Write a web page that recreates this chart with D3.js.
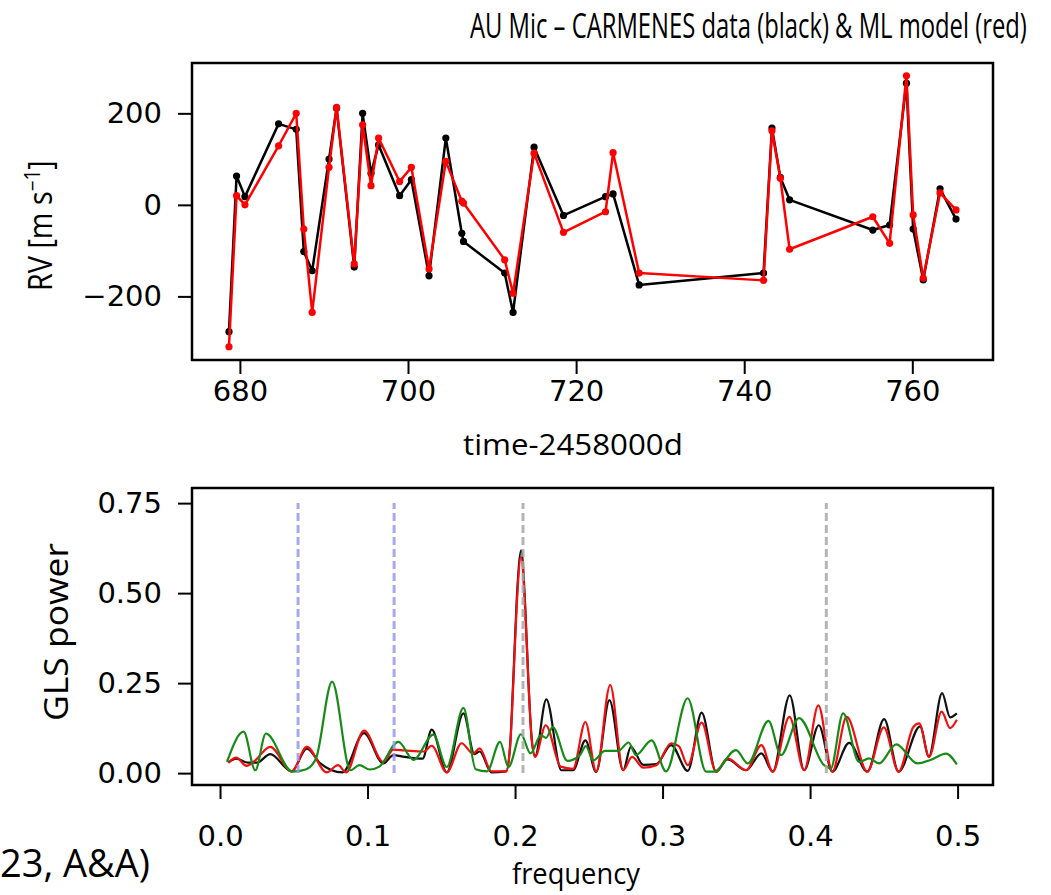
<!DOCTYPE html>
<html>
<head>
<meta charset="utf-8">
<script src="https://cdn.jsdelivr.net/npm/d3@7"></script>
<style>
  html, body { margin: 0; padding: 0; background: #fff; }
  svg { display: block; }
</style>
</head>
<body>
<svg id="chart" width="1051" height="895"></svg>
<script>
// ---------------- DATA ----------------
const titleText = "AU Mic – CARMENES data (black) & ML model (red)";
const sourceText = "23, A&A)";
const xLabelTop = "time-2458000d";
const xLabelBottom = "frequency";
const yLabelBottom = "GLS power";

// top panel: radial velocities
const obsTime = [678.7, 679.6, 680.6, 684.6, 686.7, 687.6, 688.6, 690.6, 691.5, 693.6, 694.6, 695.6, 696.5, 699.0, 700.4, 702.5, 704.5, 706.4, 706.6, 711.5, 712.5, 715.0, 718.5, 723.5, 724.4, 727.5, 742.3, 743.3, 744.3, 745.4, 755.3, 757.3, 759.3, 760.1, 761.3, 763.3, 765.2];
const rvData  = [-277, 63, 18, 177, 165, -102, -144, 100, 211, -136, 200, 69, 131, 20, 55, -155, 146, -62, -80, -149, -235, 126, -23, 18, 24, -175, -149, 168, 60, 11, -55, -44, 266, -53, -164, 35, -31];
const rvModel = [-310, 20, 0, 129, 200, -53, -235, 82, 213, -129, 175, 42, 146, 51, 82, -140, 95, 8, 4, -120, -193, 113, -60, -15, 114, -149, -165, 162, 58, -97, -26, -84, 282, -22, -160, 26, -11];
const rvTicks = [-200, 0, 200];
const timeTicks = [680, 700, 720, 740, 760];

// bottom panel: GLS periodograms
const freqBlack  = [0.0056, 0.011, 0.019, 0.025, 0.034, 0.0486, 0.0588, 0.068, 0.083, 0.0976, 0.1107, 0.1175, 0.125, 0.1373, 0.1435, 0.1537, 0.165, 0.1724, 0.176, 0.184, 0.194, 0.1966, 0.1989, 0.2011, 0.2042, 0.2068, 0.209, 0.2113, 0.2136, 0.2212, 0.2314, 0.2393, 0.2477, 0.255, 0.264, 0.2733, 0.2785, 0.287, 0.2958, 0.3058, 0.3171, 0.3265, 0.3363, 0.344, 0.3566, 0.367, 0.3747, 0.3862, 0.396, 0.4059, 0.4151, 0.4265, 0.4388, 0.4502, 0.460, 0.4746, 0.4805, 0.4895, 0.4949, 0.4995];
const powerBlack = [0.029, 0.040, 0.029, 0.029, 0.053, 0.005, 0.068, 0.027, 0.002, 0.111, 0.027, 0.050, 0.045, 0.040, 0.121, 0.002, 0.166, 0.053, 0.060, 0.002, 0.005, 0.075, 0.27, 0.48, 0.619, 0.47, 0.26, 0.095, 0.047, 0.205, 0.008, 0.008, 0.091, 0.003, 0.203, 0.008, 0.073, 0.023, 0.025, 0.078, 0.006, 0.168, 0.004, 0.038, 0.008, 0.055, 0.004, 0.216, 0.008, 0.133, 0.004, 0.084, 0.004, 0.150, 0.004, 0.130, 0.046, 0.222, 0.155, 0.166];

const freqRed  = [0.0056, 0.011, 0.018, 0.0237, 0.034, 0.0486, 0.0588, 0.0723, 0.080, 0.0855, 0.0976, 0.1107, 0.1175, 0.125, 0.138, 0.1435, 0.1537, 0.1638, 0.1715, 0.176, 0.184, 0.194, 0.1966, 0.1989, 0.2011, 0.2040, 0.2068, 0.209, 0.2113, 0.2136, 0.2208, 0.231, 0.2393, 0.2477, 0.255, 0.2645, 0.2733, 0.2793, 0.287, 0.2958, 0.3058, 0.3110, 0.3171, 0.3265, 0.3363, 0.344, 0.3566, 0.367, 0.3747, 0.3860, 0.396, 0.4056, 0.4151, 0.4248, 0.4388, 0.450, 0.460, 0.4700, 0.4740, 0.4807, 0.4892, 0.4949, 0.4995];
const powerRed = [0.029, 0.043, 0.020, 0.035, 0.073, 0.005, 0.073, 0.002, 0.022, 0.002, 0.118, 0.031, 0.065, 0.063, 0.060, 0.076, 0.002, 0.083, 0.054, 0.069, 0.005, 0.005, 0.07, 0.258, 0.462, 0.601, 0.462, 0.258, 0.092, 0.045, 0.133, 0.018, 0.012, 0.142, 0.004, 0.245, 0.008, 0.045, 0.015, 0.022, 0.083, 0.075, 0.022, 0.140, 0.004, 0.041, 0.008, 0.078, 0.004, 0.156, 0.008, 0.188, 0.004, 0.156, 0.004, 0.127, 0.004, 0.128, 0.138, 0.045, 0.171, 0.125, 0.148];

const freqGreen  = [0.0047, 0.016, 0.0239, 0.0311, 0.049, 0.058, 0.065, 0.076, 0.0884, 0.0945, 0.1015, 0.108, 0.1209, 0.1311, 0.1446, 0.1537, 0.165, 0.1733, 0.181, 0.1898, 0.1955, 0.2040, 0.2105, 0.2175, 0.2210, 0.2255, 0.2355, 0.2440, 0.2480, 0.2530, 0.2610, 0.2700, 0.2770, 0.2820, 0.2925, 0.3024, 0.3170, 0.3295, 0.3349, 0.3498, 0.3578, 0.3718, 0.3803, 0.3925, 0.4095, 0.4140, 0.4224, 0.4332, 0.4400, 0.4468, 0.4584, 0.4727, 0.4820, 0.4921, 0.4995];
const powerGreen = [0.031, 0.115, 0.008, 0.110, 0.004, 0.010, 0.040, 0.254, 0.008, 0.022, 0.010, 0.018, 0.087, 0.037, 0.107, 0.017, 0.181, 0.011, 0.005, 0.087, 0.017, 0.108, 0.055, 0.105, 0.098, 0.128, 0.034, 0.050, 0.075, 0.035, 0.062, 0.062, 0.085, 0.050, 0.091, 0.005, 0.208, 0.004, 0.004, 0.064, 0.027, 0.145, 0.050, 0.153, 0.022, 0.013, 0.166, 0.031, 0.041, 0.027, 0.080, 0.027, 0.037, 0.054, 0.024];

const markBlue = [0.0529, 0.118];
const markGrey = [0.2054, 0.411];
const powerTicks = [0.00, 0.25, 0.50, 0.75];
const freqTicks = [0.0, 0.1, 0.2, 0.3, 0.4, 0.5];

// ---------------- DRAW ----------------
(function () {
const svg = d3.select("#chart");
const tickFont = "DejaVu Sans";
const labelFont = "'Open Sans', 'Noto Sans', sans-serif";

const boxT = { left: 192, right: 993, top: 63, bottom: 360 };
const boxB = { left: 192, right: 993, top: 488, bottom: 785 };

const xT = d3.scaleLinear().domain([674.3, 769.6]).range([boxT.left, boxT.right]);
const yT = d3.scaleLinear().domain([-339, 310]).range([boxT.bottom, boxT.top]);
const xB = d3.scaleLinear().domain([-0.019, 0.524]).range([boxB.left, boxB.right]);
const yB = d3.scaleLinear().domain([-0.033, 0.792]).range([boxB.bottom, boxB.top]);

function styleAxis(g) {
  g.select(".domain").remove();
  g.selectAll(".tick line").attr("stroke", "#000").attr("stroke-width", 2);
  g.selectAll(".tick text").attr("font-family", tickFont).attr("font-size", 29).attr("fill", "#000");
}
const minusFmt = d => (d < 0 ? "\u2212" + Math.abs(d) : String(d));

svg.append("g").attr("transform", `translate(${boxT.left},0)`)
  .call(d3.axisLeft(yT).tickValues(rvTicks).tickSize(14).tickPadding(16).tickFormat(minusFmt))
  .call(styleAxis);
svg.append("g").attr("transform", `translate(0,${boxT.bottom})`)
  .call(d3.axisBottom(xT).tickValues(timeTicks).tickSize(14).tickPadding(6).tickFormat(d3.format("d")))
  .call(styleAxis);

svg.append("g").attr("transform", `translate(${boxB.left},0)`)
  .call(d3.axisLeft(yB).tickValues(powerTicks).tickSize(14).tickPadding(16).tickFormat(d3.format(".2f")))
  .call(styleAxis);
svg.append("g").attr("transform", `translate(0,${boxB.bottom})`)
  .call(d3.axisBottom(xB).tickValues(freqTicks).tickSize(14).tickPadding(26).tickFormat(d3.format(".1f")))
  .call(styleAxis);

const lineT = d3.line().x(d => xT(d[0])).y(d => yT(d[1]));
const dataPts = obsTime.map((t, i) => [t, rvData[i]]);
const modelPts = obsTime.map((t, i) => [t, rvModel[i]]);

const gTop = svg.append("g");
[[dataPts, "#000"], [modelPts, "#f00"]].forEach(([pts, col]) => {
  gTop.append("path").attr("d", lineT(pts)).attr("fill", "none")
    .attr("stroke", col).attr("stroke-width", 2.5).attr("stroke-linejoin", "round");
  gTop.selectAll(null).data(pts).enter().append("circle")
    .attr("cx", d => xT(d[0])).attr("cy", d => yT(d[1])).attr("r", 3.6).attr("fill", col);
});

const lineB = d3.line().x(d => xB(d[0])).y(d => yB(d[1])).curve(d3.curveMonotoneX);
const gBot = svg.append("g");
[[freqBlack, powerBlack, "#111"], [freqRed, powerRed, "#f01010"], [freqGreen, powerGreen, "#168c16"]].forEach(([f, p, col]) => {
  gBot.append("path").attr("d", lineB(f.map((v, i) => [v, p[i]])))
    .attr("fill", "none").attr("stroke", col).attr("stroke-width", 2.2).attr("stroke-linejoin", "round");
});

markBlue.forEach(f => gBot.append("line")
  .attr("x1", xB(f)).attr("x2", xB(f)).attr("y1", yB(0)).attr("y2", yB(0.75))
  .attr("stroke", "#9a9aee").attr("stroke-width", 3).attr("stroke-dasharray", "8,4").attr("opacity", 0.85));
markGrey.forEach(f => gBot.append("line")
  .attr("x1", xB(f)).attr("x2", xB(f)).attr("y1", yB(0)).attr("y2", yB(0.75))
  .attr("stroke", "#a8a8a8").attr("stroke-width", 3).attr("stroke-dasharray", "8,4").attr("opacity", 0.85));

[boxT, boxB].forEach(b => svg.append("rect")
  .attr("x", b.left).attr("y", b.top).attr("width", b.right - b.left).attr("height", b.bottom - b.top)
  .attr("fill", "none").attr("stroke", "#000").attr("stroke-width", 2.5));

// text fitted horizontally to a target width by a scale transform (narrow font look)
function fitText(str, x, y, size, width, anchor, rotate) {
  const t = svg.append("text").attr("font-family", labelFont).attr("font-size", size).text(str);
  const w = t.node().getComputedTextLength();
  const s = width / w;
  const x0 = anchor === "end" ? -width : 0;
  if (rotate) {
    t.attr("transform", `translate(${x},${y}) rotate(-90) translate(${x0},0) scale(${s},1)`);
  } else {
    t.attr("transform", `translate(${x},${y}) translate(${x0},0) scale(${s},1)`);
  }
  return t;
}

fitText(titleText, 470, 38, 34, 557, "start");
fitText(xLabelTop, 463, 455, 30, 220, "start");
fitText(xLabelBottom, 512, 884, 30, 128, "start");
fitText(yLabelBottom, 68, 721, 32, 178, "start", true);
fitText(sourceText, 150, 877, 38, 150, "end");

const rv = svg.append("text").attr("transform", "translate(52,291) rotate(-90) scale(0.9,1)")
  .attr("font-family", labelFont).attr("font-size", 32);
rv.append("tspan").text("RV [m s");
rv.append("tspan").attr("font-size", 21).attr("dy", -12).text("\u22121");
rv.append("tspan").attr("dy", 12).text("]");
})();
</script>
</body>
</html>
